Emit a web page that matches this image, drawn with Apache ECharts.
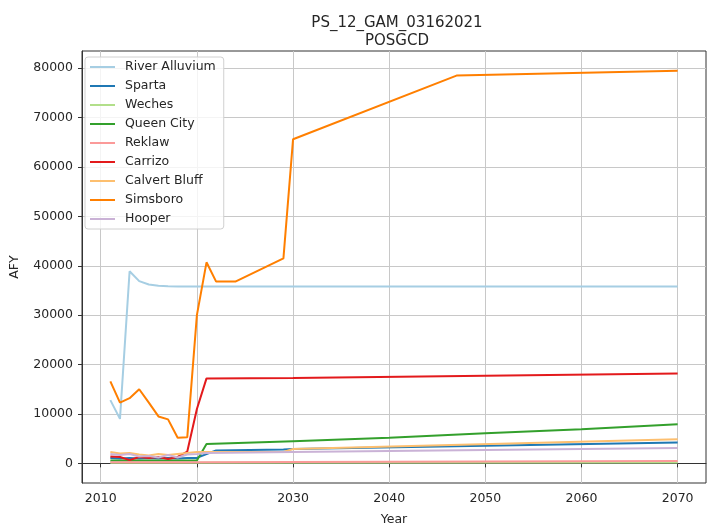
<!DOCTYPE html>
<html>
<head>
<meta charset="utf-8">
<script src="https://cdn.jsdelivr.net/npm/echarts@6/dist/echarts.min.js"></script>
<style>
html,body{margin:0;padding:0;background:#fff;}
#chart{width:708px;height:531px;}
</style>
</head>
<body>
<div id="chart"></div>
<script>
// ---- data ----
const seriesNames = ['River Alluvium','Sparta','Weches','Queen City','Reklaw','Carrizo','Calvert Bluff','Simsboro','Hooper'];
const seriesColors = ['#a6cee3','#1f78b4','#b2df8a','#33a02c','#fb9a99','#e31a1c','#fdbf6f','#ff7f00','#cab2d6'];

const riverAlluviumYears = [2011,2012,2013,2014,2015,2016,2017,2018,2070];
const riverAlluvium      = [12800,9000,38900,36900,36200,35950,35850,35800,35800];

const spartaYears = [2011,2012,2013,2014,2015,2016,2017,2018,2019,2020,2021,2022,2029,2030,2070];
const sparta      = [1100,1000,1100,1000,1100,1000,1100,1000,1100,1100,1900,2600,2800,2900,4200];

const wechesYears = [2011,2070];
const weches      = [120,150];

const queenCityYears = [2011,2015,2020,2021,2030,2040,2050,2060,2070];
const queenCity      = [600,600,600,3900,4500,5200,6100,6900,7900];

const reklawYears = [2011,2020,2070];
const reklaw      = [250,250,500];

const carrizoYears = [2011,2012,2013,2014,2015,2016,2017,2018,2019,2020,2021,2030,2070];
const carrizo      = [1400,1300,650,1300,1100,1300,900,1300,2400,11000,17200,17300,18200];

const calvertBluffYears = [2011,2012,2013,2014,2015,2016,2017,2018,2019,2020,2021,2029,2030,2070];
const calvertBluff      = [2300,2000,2100,1800,1600,1900,1700,1900,2100,2300,2300,2300,2900,4900];

const simsboroYears = [2011,2012,2013,2014,2015,2016,2017,2018,2019,2020,2021,2022,2023,2024,2029,2030,2047,2070];
const simsboro      = [16600,12300,13200,15000,12300,9500,8900,5200,5300,30000,40700,36800,36800,36800,41500,65600,78500,79500];

const hooperYears = [2011,2012,2013,2014,2015,2016,2017,2018,2019,2020,2021,2030,2070];
const hooper      = [1900,1700,1900,1400,1500,1200,1700,1200,1800,1900,2100,2300,3100];

const xTicks = [2010,2020,2030,2040,2050,2060,2070];
const yTicks = [0,10000,20000,30000,40000,50000,60000,70000,80000];

const allYears = [riverAlluviumYears,spartaYears,wechesYears,queenCityYears,reklawYears,carrizoYears,calvertBluffYears,simsboroYears,hooperYears];
const allValues = [riverAlluvium,sparta,weches,queenCity,reklaw,carrizo,calvertBluff,simsboro,hooper];

const FONT = 'DejaVu Sans';
const TXT = '#262626';

const series = seriesNames.map((name,i)=>({
  name: name,
  type: 'line',
  data: allYears[i].map((y,j)=>[y, allValues[i][j]]),
  showSymbol: false,
  symbol: 'none',
  lineStyle: {width: 2, color: seriesColors[i]},
  itemStyle: {color: seriesColors[i]},
  emphasis: {disabled: true},
  animation: false
}));

const chart = echarts.init(document.getElementById('chart'), null, {renderer:'canvas'});
chart.setOption({
  animation: false,
  backgroundColor: '#ffffff',
  title: {
    text: 'PS_12_GAM_03162021\nPOSGCD',
    left: 392, top: 9,
    textAlign: 'center',
    textStyle: {fontFamily: FONT, fontSize: 15, fontWeight: 'normal', color: TXT, lineHeight: 18}
  },
  legend: {
    orient: 'vertical',
    left: 85, top: 57,
    width: 137,
    padding: [3, 8, 3, 5],
    backgroundColor: 'rgba(255,255,255,0.8)',
    borderColor: '#d0d0d0',
    borderWidth: 1,
    borderRadius: 3,
    icon: 'rect',
    itemWidth: 25,
    itemHeight: 2,
    itemGap: 5,
    data: seriesNames,
    textStyle: {fontFamily: FONT, fontSize: 12.5, color: TXT, lineHeight: 14, padding: [0,0,0,5]}
  },
  grid: {
    left: 79, right: 2, top: 51, bottom: 43,
    show: true, borderColor: '#333', borderWidth: 1,
    containLabel: false
  },
  xAxis: {
    type: 'value',
    min: 2008.05, max: 2072.95,
    name: 'Year', nameLocation: 'middle', nameGap: 30,
    nameTextStyle: {fontFamily: FONT, fontSize: 12.5, color: TXT},
    axisLine: {show: true, lineStyle: {color: '#333'}},
    axisTick: {show: true, length: 4, lineStyle: {color: '#333'}, customValues: xTicks},
    axisLabel: {fontFamily: FONT, fontSize: 12.5, color: TXT, margin: 9, customValues: xTicks, formatter: v=>String(v)},
    splitLine: {show: true, lineStyle: {color: '#c8c8c8', width: 1}}
  },
  yAxis: {
    type: 'value',
    min: -3975, max: 83475,
    name: 'AFY', nameLocation: 'middle', nameGap: 61,
    nameTextStyle: {fontFamily: FONT, fontSize: 12.5, color: TXT},
    axisLine: {show: true, lineStyle: {color: '#333'}},
    axisTick: {show: true, length: 4, lineStyle: {color: '#333'}, customValues: yTicks},
    axisLabel: {fontFamily: FONT, fontSize: 12.5, color: TXT, margin: 9, customValues: yTicks, formatter: v=>String(v)},
    splitLine: {show: true, lineStyle: {color: '#c8c8c8', width: 1}}
  },
  series: series
});
</script>
</body>
</html>
